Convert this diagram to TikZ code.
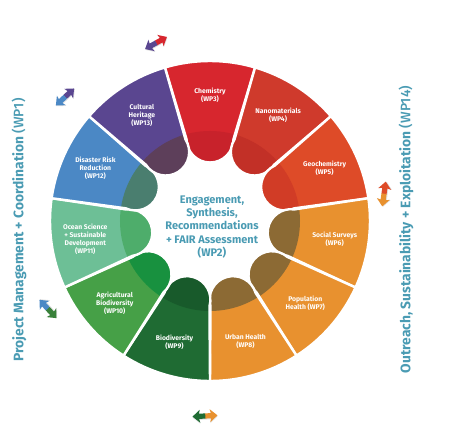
\documentclass[tikz,border=0pt]{standalone}
\usepackage{fontspec}
\setmainfont{Fira Sans}
\newfontfamily\firamed{Fira Sans Medium}
\usetikzlibrary{calc}
\definecolor{wpteal}{HTML}{4A9BB3}
\definecolor{chem}{HTML}{D7262E}\definecolor{chemd}{HTML}{C8222B}
\definecolor{nano}{HTML}{CF3A2C}\definecolor{nanod}{HTML}{C23027}
\definecolor{geo}{HTML}{DE4B28}\definecolor{geod}{HTML}{D13C26}
\definecolor{soc}{HTML}{E8912F}\definecolor{socd}{HTML}{8C6A34}
\definecolor{bio}{HTML}{1F6B33}\definecolor{biod}{HTML}{185A2B}
\definecolor{agri}{HTML}{46A047}\definecolor{agrid}{HTML}{18913F}
\definecolor{ocean}{HTML}{6DBF96}\definecolor{oceand}{HTML}{4EAD6B}
\definecolor{dis}{HTML}{4B88C5}\definecolor{disd}{HTML}{4A7E6F}
\definecolor{cult}{HTML}{5A4690}\definecolor{cultd}{HTML}{5D3F5A}
\newcommand{\petalpath}[1]{(#1-\ha:\ro) arc[start angle=#1-\ha, end angle=#1+\ha, radius=\ro]
  -- ($(#1:\rc)+(#1+90:\cw)$) arc[start angle=#1+90, end angle=#1+270, radius=\cw] -- cycle}
\newcommand{\duoarrow}[4]{%
  \begin{scope}[shift={#1}, rotate=#2]
    \fill[black, opacity=0.12] (-12.5,-1) -- (-5,5.5) -- (-6,1.6) -- (6,1.6) -- (5,5.5) -- (12.5,-1) -- (5,-7.5) -- (6,-3.6) -- (-6,-3.6) -- (-5,-7.5) -- cycle;
    \fill[#4] (0,-2.6) -- (6,-2.6) -- (5,-6.5) -- (12.5,0) -- (5,6.5) -- (6,2.6) -- (0,2.6) -- cycle;
    \fill[#3] (0.3,-2.6) -- (-6,-2.6) -- (-5,-6.5) -- (-12.5,0) -- (-5,6.5) -- (-6,2.6) -- (0.3,2.6) -- cycle;
  \end{scope}}
\tikzset{wplabel/.style={text=white, align=center, font=\bfseries\fontsize{6.8}{8}\selectfont}}
\begin{document}
\begin{tikzpicture}[x=1pt,y=1pt]
  \def\ro{160}\def\rc{82}\def\cw{23.5}\def\ha{16.36}\def\rd{90}
  \useasboundingbox (-210,-220) rectangle (239,221);
  \foreach \m/\c/\d/\n/\t in {
      90/chem/chemd/3/{Chemistry\\(WP3)},
      57.27/nano/nanod/4/{Nanomaterials\\(WP4)},
      24.55/geo/geod/5/{Geochemistry\\(WP5)},
      -8.18/soc/socd/6/{Social Surveys\\(WP6)},
      -40.91/soc/socd/7/{Population\\Health (WP7)},
      -73.64/soc/socd/8/{Urban Health\\(WP8)},
      -106.36/bio/biod/9/{Biodiversity\\(WP9)},
      -139.09/agri/agrid/10/{Agricultural\\Biodiversity\\(WP10)},
      -171.82/ocean/oceand/11/{Ocean Science\\+ Sustainable\\Development\\(WP11)},
      155.45/dis/disd/12/{Disaster Risk\\Reduction\\(WP12)},
      122.73/cult/cultd/13/{Cultural\\Heritage\\(WP13)}}{
    \fill[\c] \petalpath{\m};
    \begin{scope}
      \clip \petalpath{\m};
      \fill[\d] (0,0) circle[radius=\rd];
    \end{scope}
    \draw[white, line width=2.4pt] \petalpath{\m};
    \node[wplabel] (wp\n) at (\m:126) {\t};
  }
  \node[text=wpteal, align=center, font=\bfseries\fontsize{11}{13.3}\selectfont] (wp2) at (2,-6)
    {Engagement,\\Synthesis,\\Recommendations\\+ FAIR Assessment\\(WP2)};
  \node[rotate=90, text=wpteal, font=\fontsize{13.8}{15}\selectfont] (wp1) at (-191,-9)
    {\textbf{Project Management + Coordination} {\firamed(WP1)}};
  \node[rotate=90, text=wpteal, font=\fontsize{13.8}{15}\selectfont] (wp14) at (196,-8.5)
    {\textbf{Outreach, Sustainability + Exploitation} {\firamed(WP14)}};
  \duoarrow{(-54,178)}{29}{cult}{chem}
  \duoarrow{(-145,124)}{43}{dis}{cult}
  \duoarrow{(-162,-88)}{133}{agri!80!black}{dis}
  \duoarrow{(-5,-195)}{3}{bio}{soc}
  \duoarrow{(174,27)}{82}{soc}{geo}
\end{tikzpicture}
\end{document}
